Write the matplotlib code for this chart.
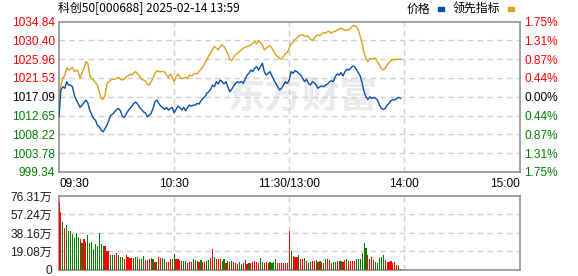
import matplotlib
matplotlib.use("Agg")
import matplotlib.pyplot as plt

# 科创50 分时数据 (每分钟, 09:30 起)
price = [1012.36, 1018.67, 1019.46, 1019.07, 1020.64, 1019.85, 1019.85, 1019.46, 1017.49, 1016.30,
         1015.51, 1014.57, 1015.12, 1015.67, 1016.30, 1015.67, 1013.94, 1012.91, 1011.96, 1011.57,
         1010.39, 1009.99, 1009.20, 1008.81, 1009.60, 1010.39, 1011.57, 1012.75, 1012.99, 1013.54,
         1014.09, 1014.33, 1013.78, 1012.52, 1012.20, 1012.99, 1013.78, 1014.33, 1014.88, 1015.51,
         1015.83, 1015.36, 1014.57, 1014.09, 1013.54, 1013.31, 1012.36, 1012.75, 1013.15, 1014.33,
         1015.91, 1016.30, 1015.51, 1014.88, 1014.57, 1014.09, 1014.57, 1013.94, 1014.33, 1014.57,
         1013.31, 1014.09, 1014.88, 1014.57, 1013.94, 1014.57, 1013.78, 1014.57, 1015.12, 1014.88,
         1015.12, 1015.12, 1015.51, 1015.36, 1016.15, 1016.70, 1017.09, 1017.88, 1018.28, 1018.83,
         1019.85, 1019.46, 1020.64, 1020.09, 1021.04, 1020.64, 1020.09, 1020.64, 1019.46, 1018.28,
         1018.83, 1019.62, 1020.25, 1020.64, 1020.41, 1020.64, 1020.25, 1021.20, 1022.22, 1022.62,
         1023.40, 1023.01, 1023.80, 1024.19, 1023.40, 1024.19, 1024.98, 1023.01, 1022.22, 1022.62,
         1023.01, 1021.98, 1021.04, 1020.25, 1019.46, 1018.67, 1019.07, 1019.85, 1020.64, 1020.25,
         1021.04, 1023.01, 1022.62, 1023.25, 1023.01, 1022.62, 1022.22, 1021.43, 1020.64, 1021.20,
         1020.25, 1019.85, 1020.64, 1020.41, 1019.85, 1019.07, 1019.46, 1019.62, 1019.46, 1019.85,
         1020.09, 1020.64, 1020.88, 1020.64, 1021.83, 1022.46, 1022.22, 1022.77, 1021.98, 1023.01,
         1023.56, 1023.40, 1023.80, 1024.35, 1024.19, 1023.56, 1022.77, 1021.98, 1020.25, 1018.28,
         1017.09, 1016.46, 1017.09, 1016.70, 1016.94, 1016.70, 1016.30, 1015.12, 1014.33, 1014.09,
         1014.33, 1015.12, 1015.51, 1016.15, 1016.46, 1016.30, 1016.70, 1016.94, 1016.70]

lead = [1015.91, 1019.85, 1021.43, 1022.22, 1023.96, 1023.40, 1023.56, 1024.04, 1023.01, 1023.40,
        1023.01, 1021.43, 1022.77, 1023.80, 1025.38, 1024.98, 1022.22, 1021.43, 1021.04, 1020.41,
        1019.85, 1018.28, 1016.70, 1016.46, 1017.49, 1020.09, 1020.64, 1021.04, 1021.20, 1021.20,
        1021.43, 1021.67, 1021.20, 1021.04, 1021.20, 1021.83, 1021.98, 1022.46, 1022.22, 1022.77,
        1023.01, 1022.46, 1021.98, 1021.20, 1021.04, 1020.88, 1020.09, 1019.85, 1020.64, 1021.43,
        1022.62, 1023.25, 1023.01, 1023.01, 1023.01, 1023.01, 1022.22, 1021.67, 1022.46, 1021.83,
        1020.64, 1021.83, 1022.46, 1021.67, 1021.43, 1021.43, 1021.67, 1021.43, 1022.22, 1021.98,
        1022.38, 1022.62, 1022.46, 1023.01, 1023.56, 1024.19, 1024.98, 1025.77, 1026.72, 1027.35,
        1028.30, 1028.93, 1028.53, 1028.14, 1028.93, 1029.32, 1028.93, 1028.14, 1027.19, 1025.93,
        1025.61, 1026.40, 1026.96, 1027.35, 1027.74, 1028.14, 1028.53, 1028.77, 1028.93, 1029.09,
        1029.32, 1029.72, 1030.11, 1029.56, 1030.35, 1029.87, 1029.32, 1028.14, 1028.53, 1028.93,
        1029.09, 1028.53, 1027.74, 1026.96, 1026.56, 1026.17, 1025.93, 1026.56, 1027.35, 1027.51,
        1028.53, 1029.72, 1029.87, 1030.66, 1030.90, 1031.45, 1031.69, 1031.69, 1031.29, 1031.45,
        1031.29, 1030.66, 1030.35, 1030.90, 1031.45, 1031.69, 1031.45, 1031.93, 1032.24, 1032.08,
        1032.48, 1032.48, 1032.08, 1032.48, 1032.48, 1032.87, 1033.03, 1033.27, 1033.03, 1032.72,
        1032.87, 1032.87, 1033.27, 1033.82, 1033.82, 1033.66, 1032.87, 1031.29, 1029.56, 1027.35,
        1026.17, 1025.38, 1026.17, 1025.93, 1026.17, 1026.17, 1025.38, 1024.59, 1023.80, 1023.40,
        1023.80, 1024.59, 1025.14, 1025.61, 1025.93, 1025.77, 1025.93, 1025.93, 1025.93]

# 成交量 (万手), up=1 红, 0 绿
vol = [70.1, 60.1, 49.5, 43.6, 46.4, 40.2, 40.2, 37.5, 33.3, 38.5,
       34.4, 32.3, 28.2, 32.3, 28.9, 36.1, 28.2, 28.9, 22.0, 27.2,
       24.7, 38.5, 27.2, 24.7, 24.7, 19.6, 19.6, 15.5, 15.5, 15.5,
       17.9, 15.2, 13.4, 13.4, 11.0, 15.5, 13.4, 12.7, 12.7, 12.7,
       13.4, 13.4, 11.0, 11.0, 14.4, 10.0, 10.0, 11.7, 12.7, 11.0,
       8.6, 8.6, 13.4, 12.7, 12.7, 11.0, 8.6, 8.6, 11.0, 11.0,
       16.2, 11.0, 11.0, 10.0, 9.3, 9.3, 9.3, 7.6, 8.6, 8.6,
       11.0, 10.0, 9.3, 8.6, 10.0, 8.2, 8.2, 9.3, 10.0, 12.7,
       21.3, 13.4, 11.0, 11.0, 11.0, 9.3, 11.0, 7.6, 9.3, 8.6,
       9.3, 8.2, 7.6, 6.5, 8.2, 6.5, 7.6, 10.3, 6.5, 7.6,
       7.6, 8.6, 9.3, 8.6, 7.6, 12.4, 8.2, 7.6, 8.6, 7.6,
       8.2, 7.6, 8.6, 11.7, 6.9, 7.6, 7.6, 7.6, 7.6, 7.6,
       40.2, 19.6, 14.4, 13.1, 13.1, 15.1, 11.3, 11.3, 12.4, 9.3,
       7.2, 8.2, 9.3, 9.3, 10.3, 8.2, 9.3, 8.2, 7.6, 11.3,
       11.3, 10.3, 7.2, 8.2, 8.2, 9.3, 9.3, 9.3, 8.2, 10.3,
       11.3, 9.3, 9.3, 9.3, 9.3, 11.3, 11.3, 11.3, 17.9, 28.2,
       22.3, 15.5, 11.3, 13.7, 10.3, 8.2, 7.2, 12.4, 13.4, 15.5,
       10.3, 8.2, 8.2, 9.3, 7.2, 8.2, 5.2, 5.2, 1.0]
vol_up = [1, 1, 0, 1, 0, 0, 0, 0, 0, 0,
          0, 1, 0, 1, 1, 0, 0, 0, 0, 0,
          0, 0, 0, 0, 1, 1, 1, 0, 0, 1,
          1, 0, 0, 0, 1, 1, 1, 1, 1, 1,
          0, 0, 1, 0, 0, 1, 1, 1, 1, 0,
          1, 0, 1, 1, 0, 0, 1, 1, 1, 0,
          0, 1, 1, 1, 1, 0, 0, 1, 1, 1,
          0, 1, 0, 1, 0, 1, 1, 0, 0, 1,
          1, 0, 1, 1, 1, 0, 0, 1, 0, 1,
          0, 1, 1, 1, 0, 0, 1, 1, 1, 0,
          1, 1, 1, 1, 1, 0, 0, 1, 1, 1,
          0, 0, 0, 0, 1, 1, 1, 1, 1, 1,
          1, 0, 1, 1, 1, 0, 1, 1, 0, 1,
          0, 0, 1, 1, 0, 1, 0, 1, 1, 0,
          1, 1, 1, 0, 0, 1, 1, 0, 1, 1,
          0, 1, 1, 1, 1, 0, 0, 0, 0, 0,
          0, 1, 1, 1, 1, 0, 0, 0, 0, 0,
          1, 1, 1, 1, 1, 1, 1, 0, 0]

prev_close = 1017.09
price_ticks = [999.34, 1003.78, 1008.22, 1012.65, 1017.09, 1021.53, 1025.96, 1030.40, 1034.84]
pct_labels = ['1.75%', '1.31%', '0.87%', '0.44%', '0.00%', '0.44%', '0.87%', '1.31%', '1.75%']
vol_ticks = [0, 19.08, 38.16, 57.24, 76.31]
vol_labels = ['0', '19.08万', '38.16万', '57.24万', '76.31万']
time_pos = [0, 60, 120, 180, 240]
time_labels = ['09:30', '10:30', '11:30/13:00', '14:00', '15:00']
title = '科创50[000688] 2025-02-14 13:59'

RED = '#FF0000'
GREEN = '#008000'
GRID = '#CFCFCF'
FRAME = '#999999'
NUMFONT = 'Liberation Sans'
CJK = ['Noto Sans CJK SC', 'DejaVu Sans']

W, H = 578, 276
fig = plt.figure(figsize=(W / 100, H / 100), dpi=100)

def px_axes(x0, y0, x1, y1):
    return fig.add_axes([x0 / W, 1 - y1 / H, (x1 - x0) / W, (y1 - y0) / H])

ax = px_axes(59, 21.5, 519.5, 172)
axv = px_axes(59, 196, 519.5, 270)

# watermark
ax.text(0.53, 0.5, '东方财富', transform=ax.transAxes, ha='center', va='center',
        fontsize=27, fontweight='bold', color='#EBEBEF', family=CJK, zorder=0)

x = list(range(len(price)))
ax.plot(x, lead, color='#DDA020', lw=1.0, zorder=3)
ax.plot(x, price, color='#0A4FA6', lw=1.0, zorder=4)
ax.set_xlim(0, 240)
ax.set_ylim(price_ticks[0], price_ticks[-1])

for sp in ax.spines.values():
    sp.set_color(FRAME)
    sp.set_linewidth(1.3)
for v in price_ticks[1:-1]:
    ax.axhline(v, color=GRID, lw=1, ls=(0, (4, 3)), zorder=1)
for t in time_pos[1:-1]:
    ax.axvline(t, color=GRID, lw=1, ls=(0, (4, 3)), zorder=1)

ax.set_yticks(price_ticks)
ax.set_yticklabels(['%.2f' % v for v in price_ticks], fontsize=8.6, family=NUMFONT)
ax.tick_params(axis='y', length=0, pad=3)
for lab, v in zip(ax.get_yticklabels(), price_ticks):
    lab.set_color(RED if v > prev_close + 0.01 else (GREEN if v < prev_close - 0.01 else 'black'))

ax.set_xticks(time_pos)
ax.set_xticklabels(time_labels, fontsize=8.6, family=NUMFONT)
ax.tick_params(axis='x', length=0, pad=4)
xl = ax.get_xticklabels()
xl[0].set_ha('left')
xl[-1].set_ha('right')

axr = ax.twinx()
axr.set_ylim(price_ticks[0], price_ticks[-1])
axr.set_yticks(price_ticks)
axr.set_yticklabels(pct_labels, fontsize=8.6, family=NUMFONT)
axr.tick_params(axis='y', length=0, pad=3.5)
for lab, v in zip(axr.get_yticklabels(), price_ticks):
    lab.set_color(RED if v > prev_close + 0.01 else (GREEN if v < prev_close - 0.01 else 'black'))
for sp in axr.spines.values():
    sp.set_visible(False)

# volume
vx = list(range(len(vol)))
colors = [RED if u else GREEN for u in vol_up]
axv.bar(vx, vol, width=0.6, color=colors, zorder=3, antialiased=False, linewidth=0)
axv.set_xlim(0, 240)
axv.set_ylim(0, vol_ticks[-1])
for sp in axv.spines.values():
    sp.set_color(FRAME)
    sp.set_linewidth(1.3)
for v in vol_ticks[1:-1]:
    axv.axhline(v, color=GRID, lw=1, ls=(0, (4, 3)), zorder=1)
for t in time_pos[1:-1]:
    axv.axvline(t, color=GRID, lw=1, ls=(0, (4, 3)), zorder=1)
axv.set_xticks([])
axv.set_yticks(vol_ticks)
axv.set_yticklabels(vol_labels, fontsize=8.6, family=['Liberation Sans', 'Noto Sans CJK SC'], color='#1a1a2a')
axv.tick_params(axis='y', length=0, pad=5)

# title and legend
fig.text(58 / W, 1 - 8.5 / H, title, fontsize=8.6, family=CJK, va='center', ha='left')
fig.text(407 / W, 1 - 9 / H, '价格', fontsize=8.6, family=CJK, va='center', ha='left')
fig.patches.append(plt.Rectangle((438 / W, 1 - 11 / H), 6 / W, 4 / H, transform=fig.transFigure,
                                 color='#0A4FA6'))
fig.text(453 / W, 1 - 9 / H, '领先指标', fontsize=8.6, family=CJK, va='center', ha='left')
fig.patches.append(plt.Rectangle((508 / W, 1 - 11 / H), 6 / W, 4 / H, transform=fig.transFigure,
                                 color='#DDA020'))

fig.savefig('out.png', dpi=100)
